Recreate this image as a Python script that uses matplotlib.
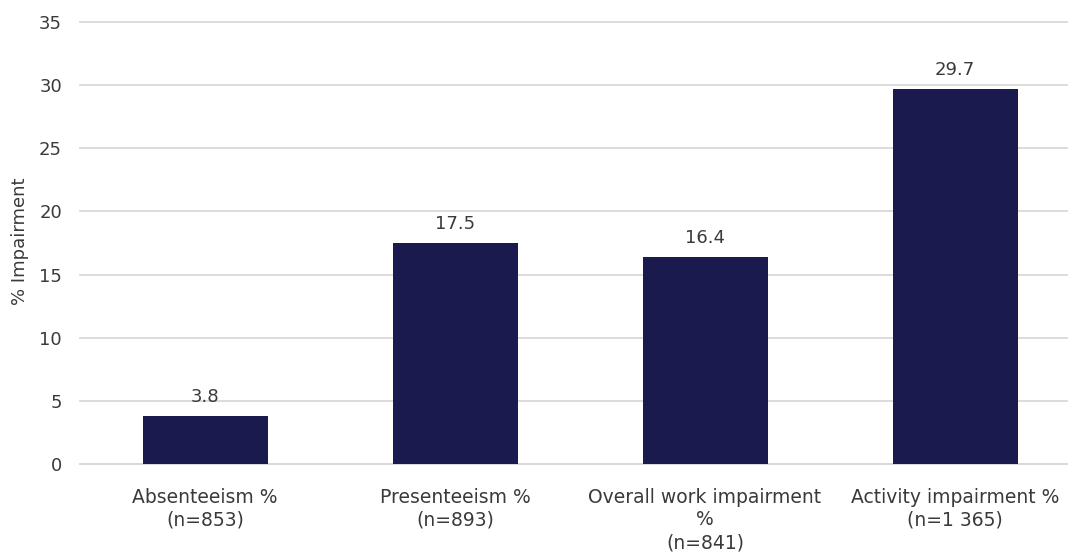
import matplotlib
matplotlib.use("Agg")
import matplotlib.pyplot as plt

categories = [
    "Absenteeism %\n(n=853)",
    "Presenteeism %\n(n=893)",
    "Overall work impairment\n%\n(n=841)",
    "Activity impairment %\n(n=1 365)",
]
values = [3.8, 17.5, 16.4, 29.7]
y_ticks = [0, 5, 10, 15, 20, 25, 30, 35]

bar_color = "#1B1A4E"
text_color = "#3A3A3A"
grid_color = "#D9D9D9"

plt.rcParams["font.family"] = ["DejaVu Sans"]

fig = plt.figure(figsize=(10.68, 5.52), dpi=100)
ax = fig.add_axes([80 / 1068, 1 - 464 / 552, 1000 / 1068, (464 - 22) / 552])

x = range(len(categories))
bars = ax.bar(x, values, width=0.5, color=bar_color, zorder=3)
ax.bar_label(bars, labels=[f"{v:.1f}" for v in values], padding=7,
             fontsize=13, color=text_color)

ax.set_xlim(-0.5, len(categories) - 0.5)
ax.set_ylim(0, 35)
ax.set_yticks(y_ticks)
ax.set_xticks(list(x))
ax.set_xticklabels(categories, fontsize=13.5, color=text_color, linespacing=1.25)
ax.tick_params(axis="y", labelsize=13, labelcolor=text_color, length=0, pad=13)
ax.tick_params(axis="x", length=0, pad=17)

ax.yaxis.grid(True, color=grid_color, linewidth=1.3, zorder=0)
for line in ax.get_ygridlines():
    line.set_clip_on(False)
for side in ["top", "right", "left"]:
    ax.spines[side].set_visible(False)
ax.spines["bottom"].set_color(grid_color)
ax.spines["bottom"].set_linewidth(1.3)

ax.set_ylabel("% Impairment", fontsize=13, color=text_color)
ax.yaxis.set_label_coords(-0.051, 0.505)

fig.savefig("out.png", dpi=100)
